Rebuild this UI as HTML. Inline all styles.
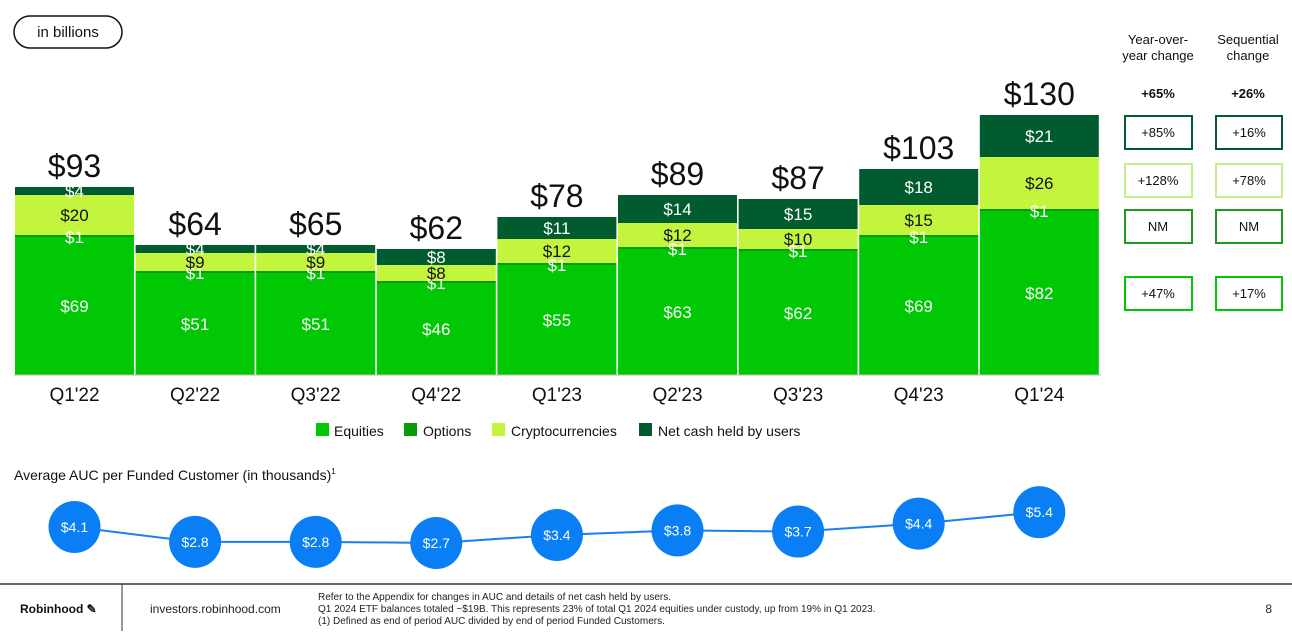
<!DOCTYPE html>
<html><head><meta charset="utf-8"><style>
body{margin:0;width:1292px;height:631px;overflow:hidden;background:#fff;font-family:"Liberation Sans",sans-serif;}
svg text{font-family:"Liberation Sans",sans-serif;}
</style></head><body>
<svg id="chart" width="1292" height="631" viewBox="0 0 1292 631" xmlns="http://www.w3.org/2000/svg">
<rect x="14" y="16" width="108" height="32" rx="16" fill="#fff" stroke="#111" stroke-width="1.5"/>
<text x="68" y="37" font-size="15" text-anchor="middle" fill="#111">in billions</text>
<g id="bars"></g>
<line x1="14" y1="375" x2="1101" y2="375" stroke="#bbb" stroke-width="1"/>
<g id="xlabels"></g>
<g font-size="14" fill="#111">
<rect x="316" y="423" width="13" height="13" fill="#00c805"/><text x="334" y="436">Equities</text>
<rect x="404" y="423" width="13" height="13" fill="#0a9a0a"/><text x="423" y="436">Options</text>
<rect x="492" y="423" width="13" height="13" fill="#c3f53c"/><text x="511" y="436">Cryptocurrencies</text>
<rect x="639" y="423" width="13" height="13" fill="#005c2e"/><text x="658" y="436">Net cash held by users</text>
</g>
<text x="14" y="480" font-size="14" fill="#111">Average AUC per Funded Customer (in thousands)<tspan font-size="8" dy="-6">1</tspan></text>
<g id="line"></g>
<g font-size="13" fill="#111" text-anchor="middle">
<text x="1158" y="44">Year-over-</text><text x="1158" y="60">year change</text>
<text x="1248" y="44">Sequential</text><text x="1248" y="60">change</text>
<text x="1158" y="98" font-weight="bold">+65%</text><text x="1248" y="98" font-weight="bold">+26%</text>
<rect x="1125" y="116" width="67" height="33" fill="none" stroke="#005c2e" stroke-width="2"/><text x="1158" y="137">+85%</text>
<rect x="1216" y="116" width="66" height="33" fill="none" stroke="#005c2e" stroke-width="2"/><text x="1249" y="137">+16%</text>
<rect x="1125" y="164" width="67" height="33" fill="none" stroke="#c3f08a" stroke-width="2"/><text x="1158" y="185">+128%</text>
<rect x="1216" y="164" width="66" height="33" fill="none" stroke="#c3f08a" stroke-width="2"/><text x="1249" y="185">+78%</text>
<rect x="1125" y="210" width="67" height="33" fill="none" stroke="#1f9a1f" stroke-width="2"/><text x="1158" y="231">NM</text>
<rect x="1216" y="210" width="66" height="33" fill="none" stroke="#1f9a1f" stroke-width="2"/><text x="1249" y="231">NM</text>
<rect x="1125" y="277" width="67" height="33" fill="none" stroke="#00c805" stroke-width="2"/><text x="1158" y="298">+47%</text>
<rect x="1216" y="277" width="66" height="33" fill="none" stroke="#00c805" stroke-width="2"/><text x="1249" y="298">+17%</text>
</g>
<g>
<line x1="0" y1="584" x2="1292" y2="584" stroke="#333" stroke-width="1.5"/>
<line x1="122" y1="584" x2="122" y2="631" stroke="#333" stroke-width="1"/>
<text x="20" y="613" font-size="12" font-weight="bold" fill="#111">Robinhood ✎</text>
<text x="150" y="613" font-size="12" fill="#222">investors.robinhood.com</text>
<text x="318" y="600" font-size="10" fill="#222">Refer to the Appendix for changes in AUC and details of net cash held by users.</text>
<text x="318" y="612" font-size="10" fill="#222">Q1 2024 ETF balances totaled ~$19B. This represents 23% of total Q1 2024 equities under custody, up from 19% in Q1 2023.</text>
<text x="318" y="624" font-size="10" fill="#222">(1) Defined as end of period AUC divided by end of period Funded Customers.</text>
<text x="1272" y="613" font-size="12" fill="#222" text-anchor="end">8</text>
</g>
</svg>
<script>
const categories=["Q1'22","Q2'22","Q3'22","Q4'22","Q1'23","Q2'23","Q3'23","Q4'23","Q1'24"];
const equities=[69,51,51,46,55,63,62,69,82];
const options=[1,1,1,1,1,1,1,1,1];
const crypto=[20,9,9,8,12,12,10,15,26];
const cash=[4,4,4,8,11,14,15,18,21];
const totals=[93,64,65,62,78,89,87,103,130];
const aucPerCustomer=[4.1,2.8,2.8,2.7,3.4,3.8,3.7,4.4,5.4];

const NS="http://www.w3.org/2000/svg";
const base=375, pxPer=2.0, x0=15, pitch=120.6, bw=119;
const yv=v=>base-v*pxPer;
const xc=i=>x0+i*pitch+bw/2;
const ly=v=>527-(v-4.1)*11.4;
function mk(tag,attrs,parent){const e=document.createElementNS(NS,tag);for(const k in attrs)e.setAttribute(k,attrs[k]);parent.appendChild(e);return e;}
const bars=document.getElementById('bars'), xl=document.getElementById('xlabels'), line=document.getElementById('line');
const segs=[[equities,'#00c805','equities','#fff'],[options,'#0a9a0a','options','#fff'],[crypto,'#c3f53c','crypto','#111'],[cash,'#005c2e','cash','#fff']];
categories.forEach((c,i)=>{
  let cum=0;
  const g=mk('g',{},bars);
  
  
  const lbls=[];
  segs.forEach(([arr,col,nm,tc])=>{
    const v=arr[i];
    const r=mk('rect',{x:x0+i*pitch,y:yv(cum+v),width:bw,height:v*pxPer,fill:col},g);
    
    
    let ty=nm==='options'?yv(cum)-0:yv(cum+v/2)+6;
    if(nm==='options') ty=yv(cum+v)+8;
    lbls.push([ty,'$'+v,tc,nm]);
    cum+=v;
  });
  lbls.forEach(([ty,t,tc,nm])=>{
    const e=mk('text',{x:xc(i),y:ty,'font-size':17,'text-anchor':'middle',fill:tc},g);
    
    
    e.textContent=t;
  });
  const tt=mk('text',{x:xc(i),y:yv(cum)-10,'font-size':32,'text-anchor':'middle',fill:'#111'},g);
  
  
  tt.textContent='$'+totals[i];
  const xt=mk('text',{x:xc(i),y:401,'font-size':19,'text-anchor':'middle',fill:'#111'},xl);
  
  
  xt.textContent=c;
});
const pts=aucPerCustomer.map((v,i)=>xc(i)+','+ly(v)).join(' ');
const pl=mk('polyline',{points:pts,fill:'none',stroke:'#1a7ff0','stroke-width':2},line);


aucPerCustomer.forEach((v,i)=>{
  const c=mk('circle',{cx:xc(i),cy:ly(v),r:26,fill:'#0a7ff5'},line);
  
  
  const t=mk('text',{x:xc(i),y:ly(v)+5,'font-size':14,'text-anchor':'middle',fill:'#fff'},line);
  
  
  t.textContent='$'+v.toFixed(1);
});
</script>
</body></html>
